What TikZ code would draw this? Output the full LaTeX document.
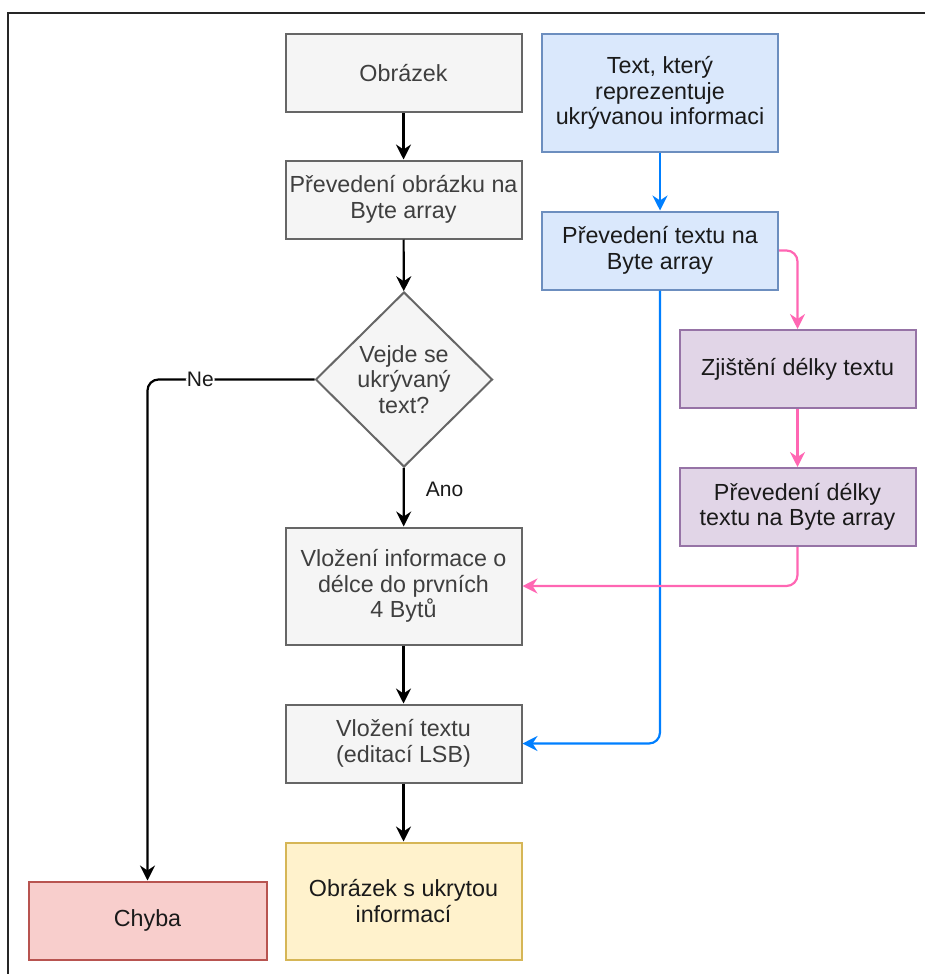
\documentclass[tikz,border=0pt]{standalone}
\usepackage{fontspec}
\usetikzlibrary{arrows.meta,shapes.geometric}
\newfontfamily\dio{Liberation Sans}
\definecolor{grayF}{HTML}{F5F5F5}
\definecolor{grayD}{HTML}{666666}
\definecolor{grayT}{HTML}{3F3F3F}
\definecolor{blueF}{HTML}{DAE8FC}
\definecolor{blueD}{HTML}{6C8EBF}
\definecolor{purF}{HTML}{E1D5E7}
\definecolor{purD}{HTML}{9673A6}
\definecolor{redF}{HTML}{F8CECC}
\definecolor{redD}{HTML}{B85450}
\definecolor{yelF}{HTML}{FFF2CC}
\definecolor{yelD}{HTML}{D6B656}
\definecolor{pinkA}{HTML}{FF66B3}
\definecolor{blueA}{HTML}{007FFF}
\definecolor{txt}{HTML}{1A1A1A}
\tikzset{
  box/.style={draw, rectangle, line width=2pt, minimum width=236pt, minimum height=78pt,
    align=center, inner sep=2pt, text=txt, font=\dio\fontsize{23.3}{25.5}\selectfont},
  graybox/.style={box, fill=grayF, draw=grayD, text=grayT},
  bluebox/.style={box, fill=blueF, draw=blueD},
  purbox/.style={box, fill=purF, draw=purD},
  redbox/.style={box, fill=redF, draw=redD},
  yelbox/.style={box, fill=yelF, draw=yelD},
  tall/.style={minimum height=117pt},
  conn/.style={line width=2.2pt, rounded corners=11pt, -{Stealth[length=15pt,width=15pt,inset=5pt]}},
  blk/.style={conn, draw=black},
  pnk/.style={conn, draw=pinkA},
  blu/.style={conn, draw=blueA},
  lbl/.style={font=\dio\fontsize{21}{24}\selectfont, text=txt, inner sep=1pt}
}
\begin{document}
\begin{tikzpicture}[x=1pt,y=-1pt]
\useasboundingbox (0,0) rectangle (925,974);
% frame
\draw[line width=2.4pt, black!85] (925,13) -- (8,13) -- (8,974);
% nodes
\node[graybox] (ob) at (403.5,73) {Obrázek};
\node[graybox] (pob) at (403.5,199.5) {Převedení obrázku na\\Byte array};
\node[draw=grayD, fill=grayF, line width=2pt, shape=diamond, minimum width=177pt, minimum height=175pt,
  inner sep=0pt, align=center, text=grayT, font=\dio\fontsize{23.3}{25.5}\selectfont] (dia) at (404,379.5)
  {Vejde se\\ukrývaný\\text?};
\node[graybox, tall] (vi) at (403.5,586) {Vložení informace o\\délce do prvních\\4 Bytů};
\node[graybox] (vt) at (403.5,743.5) {Vložení textu\\(editací LSB)};
\node[yelbox, tall] (os) at (403.5,901) {Obrázek s ukrytou\\informací};
\node[redbox, minimum width=238pt] (ch) at (147.5,920.5) {Chyba};
\node[bluebox, tall] (tk) at (660,93) {Text, který\\reprezentuje\\ukrývanou informaci};
\node[bluebox] (pt) at (660,250.5) {Převedení textu na\\Byte array};
\node[purbox] (zj) at (797.5,369) {Zjištění délky textu};
\node[purbox] (pd) at (797.5,507) {Převedení délky\\textu na Byte array};
% black connectors
\draw[blk] (ob) -- (pob);
\draw[blk] (pob) -- (dia);
\draw[blk] (dia) -- node[lbl, anchor=west, xshift=20pt, yshift=8pt] (ano) {Ano} (vi);
\draw[blk] (vi) -- (vt);
\draw[blk] (vt) -- (os);
\draw[blk] (dia.west) -| node[lbl, pos=0.342, fill=white] (ne) {Ne} (ch.north);
% blue connectors
\draw[blu] (tk) -- (pt);
\draw[blu] (pt.south) |- (vt.east);
% pink connectors
\draw[pnk] (pt.east) -| (zj.north);
\draw[pnk] (zj) -- (pd);
\draw[pnk] (pd.south) |- (vi.east);
\end{tikzpicture}
\end{document}
